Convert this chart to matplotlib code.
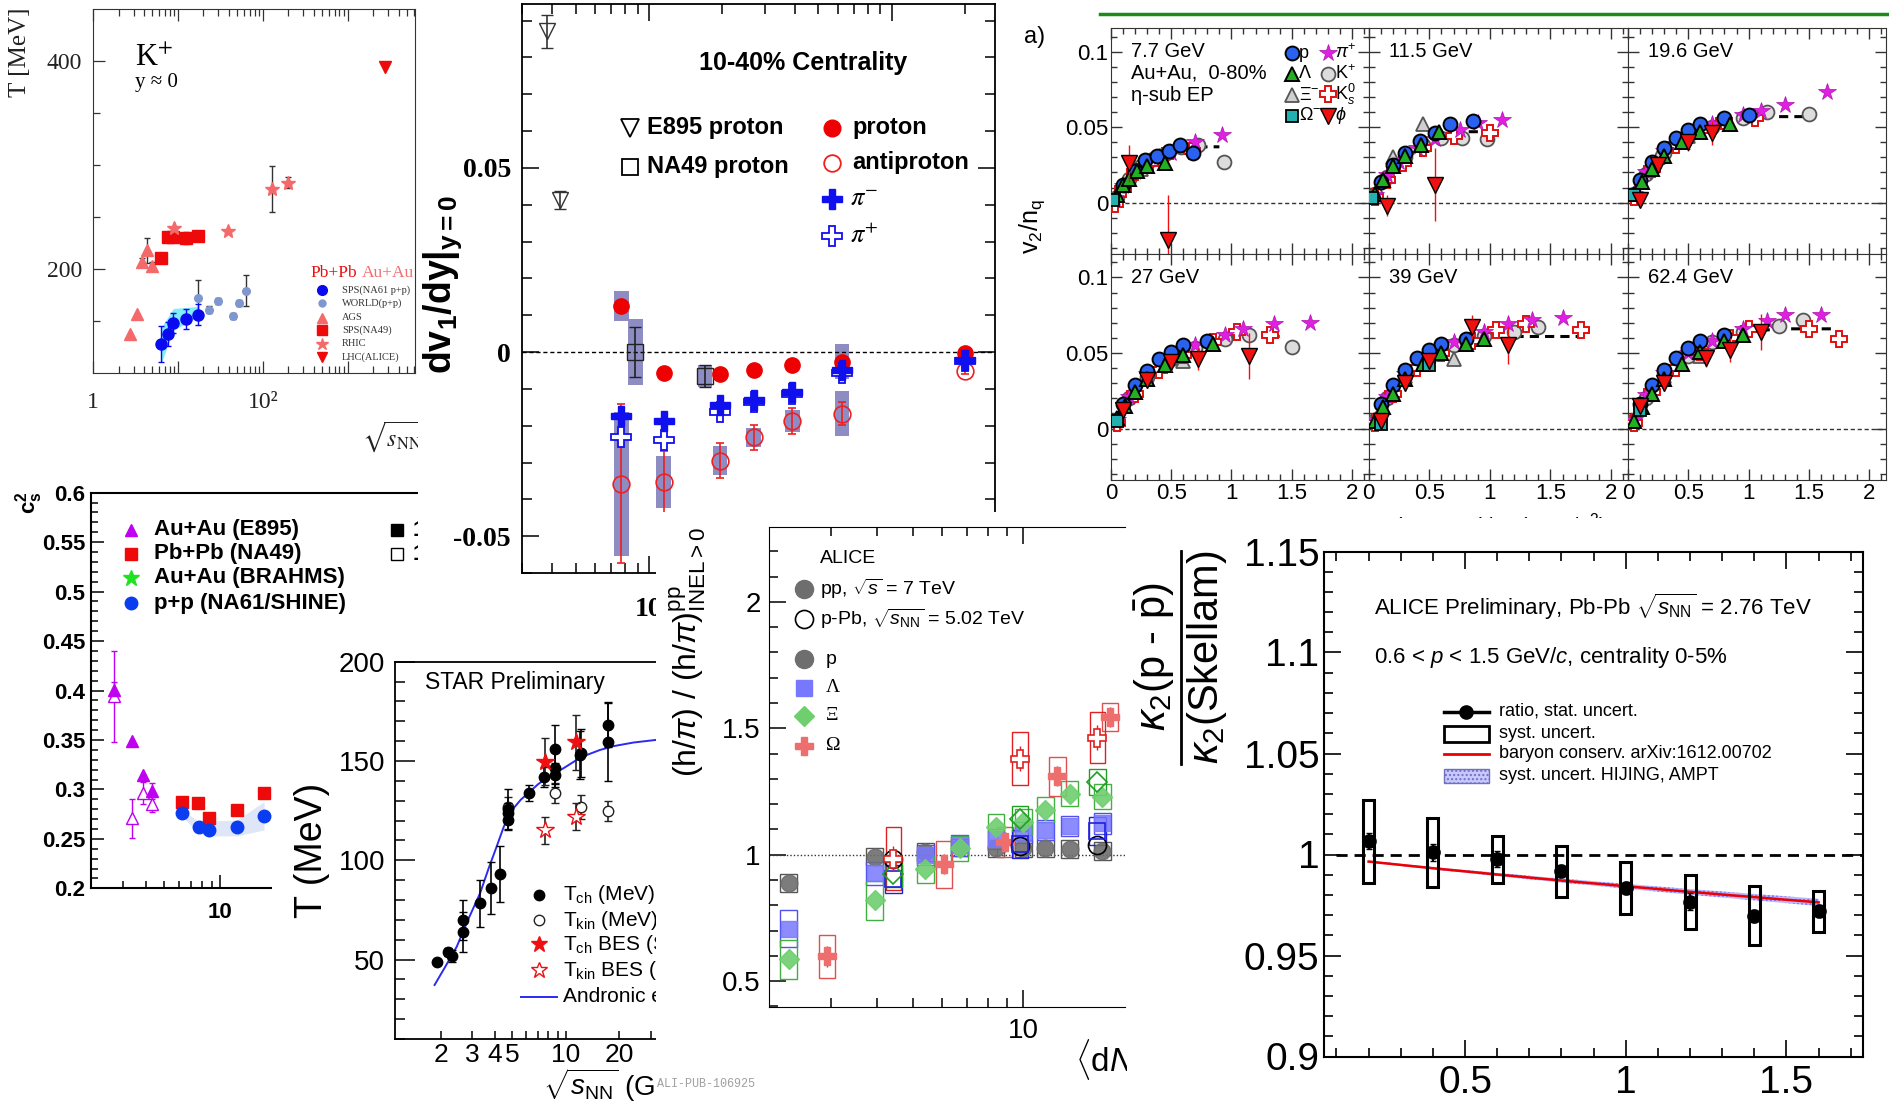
import numpy as np
import matplotlib
matplotlib.use("Agg")
import matplotlib.pyplot as plt
from matplotlib.patches import Rectangle
from matplotlib.lines import Line2D
from matplotlib.ticker import LogLocator, NullFormatter, MultipleLocator

plt.rcParams["font.family"] = ["Liberation Sans", "DejaVu Sans"]
plt.rcParams["mathtext.fontset"] = "custom"
plt.rcParams["mathtext.rm"] = "Liberation Sans"
plt.rcParams["mathtext.it"] = "Liberation Sans:italic"
plt.rcParams["mathtext.bf"] = "Liberation Sans:bold"
SERIF = ["Liberation Serif", "DejaVu Serif"]

# =========================
# data: K+ inverse slope T vs sqrt(s)
# =========================
k_na61_x = [6.3, 7.6, 8.7, 12.3, 17.3]
k_na61_T = [128, 137.5, 148, 152, 156]
k_na61_err = [17, 12, 10, 10, 10]
k_band_x = [6.4, 8.8, 17.3]
k_band_lo = [110, 141, 154]
k_band_hi = [144, 162, 164]
k_world_x = [17.3, 23, 30, 44, 53, 63]
k_world_T = [172, 161, 169, 155, 167, 179]
k_world_err = [17, 3, 3, 3, 3, 15]
k_ags_x = [2.7, 3.3, 3.8, 4.3, 4.9]
k_ags_T = [137.5, 157, 207, 218, 203]
k_ags_err = [0, 0, 4, 12, 4]
k_na49_x = [6.3, 7.6, 8.7, 12.3, 17.3]
k_na49_T = [211, 231, 231, 230, 232]
k_na49_err = [0, 5, 5, 6, 5]
k_rhic_x = [8.9, 39, 130, 200]
k_rhic_T = [239, 237, 277, 283]
k_rhic_err = [0, 0, 22, 5]
k_lhc_x = [2760]
k_lhc_T = [394]
k_legend = ["SPS(NA61 p+p)", "WORLD(p+p)", "AGS", "SPS(NA49)", "RHIC", "LHC(ALICE)"]

# =========================
# data: directed flow dv1/dy
# =========================
dv_e895_x = [3.8, 4.3]
dv_e895_y = [0.0871, 0.0413]
dv_e895_err = [0.0045, 0.0025]
dv_na49_x = [8.8, 17.0]
dv_na49_y = [0.0, -0.0064]
dv_na49_err = [0.0068, 0.003]
dv_na49_sys = [0.009, 0.003]
dv_star_x = [7.7, 11.5, 19.6, 27, 39, 62.4, 200]
dv_p = [0.0125, -0.0056, -0.006, -0.005, -0.0035, -0.0026, -0.0003]
dv_p_sys = [0.004, 0, 0, 0, 0, 0.0047, 0]
dv_pbar = [-0.0358, -0.0353, -0.0295, -0.0232, -0.0187, -0.0167, -0.0051]
dv_pbar_err = [0.0216, 0.0083, 0.0047, 0.0033, 0.0035, 0.003, 0.001]
dv_pbar_sys = [0.0196, 0.007, 0.004, 0.0025, 0.003, 0.006, 0]
dv_pim = [-0.0174, -0.0187, -0.0144, -0.0129, -0.0109, -0.0048, -0.0023]
dv_pip = [-0.0232, -0.0239, -0.0164, -0.0135, -0.0113, -0.0058, -0.0025]

# =========================
# data: v2/nq vs (mT-m0)/nq
# =========================
v2_energy = ["7.7 GeV", "11.5 GeV", "19.6 GeV", "27 GeV", "39 GeV", "62.4 GeV"]
v2_p_x = [[0.1, 0.2, 0.28, 0.38, 0.48, 0.57, 0.68], [0.1, 0.2, 0.3, 0.42, 0.55, 0.67, 0.86],
          [0.1, 0.2, 0.3, 0.4, 0.5, 0.6, 0.8, 1.0], [0.1, 0.2, 0.3, 0.4, 0.5, 0.6, 0.8],
          [0.1, 0.2, 0.3, 0.4, 0.5, 0.6, 0.8], [0.1, 0.2, 0.3, 0.4, 0.5, 0.6, 0.8]]
v2_p_y = [[0.012, 0.021, 0.028, 0.031, 0.034, 0.038, 0.033], [0.014, 0.025, 0.033, 0.041, 0.046, 0.052, 0.054],
          [0.015, 0.027, 0.036, 0.043, 0.048, 0.052, 0.056, 0.058], [0.016, 0.029, 0.038, 0.046, 0.051, 0.055, 0.058],
          [0.016, 0.029, 0.039, 0.047, 0.052, 0.056, 0.059], [0.016, 0.029, 0.039, 0.047, 0.053, 0.058, 0.062]]
v2_lam_x = [[0.05, 0.1, 0.15, 0.22, 0.3, 0.45], [0.05, 0.12, 0.2, 0.3, 0.43, 0.58],
            [0.05, 0.12, 0.2, 0.3, 0.45, 0.6, 0.85], [0.05, 0.12, 0.2, 0.3, 0.45, 0.6, 0.85],
            [0.05, 0.12, 0.2, 0.3, 0.45, 0.6, 0.8, 0.95], [0.05, 0.12, 0.2, 0.3, 0.45, 0.6, 0.8, 0.95]]
v2_lam_y = [[0.005, 0.012, 0.016, 0.021, 0.024, 0.026], [0.006, 0.015, 0.024, 0.031, 0.038, 0.047],
            [0.006, 0.014, 0.022, 0.031, 0.04, 0.047, 0.052], [0.007, 0.015, 0.024, 0.033, 0.042, 0.049, 0.056],
            [0.005, 0.014, 0.023, 0.033, 0.043, 0.05, 0.056, 0.059], [0.005, 0.014, 0.023, 0.033, 0.043, 0.051, 0.058, 0.062]]
v2_xi_x = [[0.1, 0.25], [0.2, 0.45], [0.25, 0.5], [0.3, 0.6], [0.3, 0.7], [0.3, 0.6]]
v2_xi_y = [[0.012, 0.022], [0.03, 0.052], [0.03, 0.044], [0.033, 0.045], [0.035, 0.046], [0.035, 0.048]]
v2_om_x = [[0.02], [0.03], [0.05], [0.05], [0.1, 0.5], [0.1]]
v2_om_y = [[0.002], [0.003], [0.005], [0.005], [0.003, 0.042], [0.012]]
v2_pi_x = [[0.03, 0.1, 0.2, 0.3, 0.4, 0.5, 0.7, 0.92], [0.05, 0.15, 0.25, 0.4, 0.55, 0.75, 0.9, 1.1],
           [0.05, 0.15, 0.3, 0.5, 0.7, 0.95, 1.1, 1.3, 1.65], [0.05, 0.15, 0.3, 0.5, 0.7, 0.95, 1.1, 1.35, 1.65],
           [0.05, 0.15, 0.3, 0.5, 0.7, 0.95, 1.15, 1.35, 1.6], [0.05, 0.15, 0.3, 0.5, 0.7, 0.95, 1.15, 1.3, 1.6]]
v2_pi_y = [[0.003, 0.011, 0.02, 0.026, 0.03, 0.033, 0.04, 0.045], [0.005, 0.018, 0.027, 0.036, 0.042, 0.048, 0.053, 0.055],
           [0.006, 0.02, 0.034, 0.045, 0.052, 0.058, 0.061, 0.065, 0.073], [0.006, 0.021, 0.036, 0.048, 0.055, 0.062, 0.066, 0.069, 0.070],
           [0.006, 0.021, 0.036, 0.049, 0.057, 0.064, 0.069, 0.072, 0.073], [0.006, 0.022, 0.037, 0.05, 0.058, 0.066, 0.071, 0.075, 0.075]]
v2_k_x = [[0.05, 0.15, 0.25, 0.35, 0.45, 0.58, 0.72, 0.94], [0.05, 0.15, 0.3, 0.45, 0.6, 0.77, 0.98],
          [0.05, 0.15, 0.3, 0.5, 0.7, 0.95, 1.15, 1.5], [0.05, 0.15, 0.3, 0.5, 0.7, 0.95, 1.15, 1.5],
          [0.05, 0.15, 0.3, 0.5, 0.7, 0.95, 1.2, 1.4], [0.05, 0.15, 0.3, 0.5, 0.7, 0.95, 1.25, 1.45]]
v2_k_y = [[0.004, 0.016, 0.024, 0.029, 0.032, 0.037, 0.038, 0.027], [0.006, 0.017, 0.03, 0.038, 0.043, 0.043, 0.042],
          [0.006, 0.019, 0.033, 0.044, 0.05, 0.056, 0.06, 0.059], [0.006, 0.02, 0.034, 0.046, 0.053, 0.059, 0.062, 0.054],
          [0.006, 0.02, 0.035, 0.047, 0.055, 0.061, 0.064, 0.067], [0.006, 0.02, 0.036, 0.048, 0.057, 0.064, 0.068, 0.072]]
v2_k0_x = [[0.03, 0.1, 0.2, 0.32, 0.45, 0.67], [0.05, 0.15, 0.28, 0.45, 0.7, 1.0],
           [0.05, 0.2, 0.4, 0.6, 0.8, 1.05], [0.05, 0.2, 0.4, 0.6, 0.85, 1.05, 1.32],
           [0.05, 0.2, 0.4, 0.6, 0.85, 1.05, 1.3, 1.75], [0.05, 0.2, 0.4, 0.6, 0.85, 1.0, 1.5, 1.75]]
v2_k0_y = [[-0.001, 0.009, 0.02, 0.026, 0.031, 0.034], [0.004, 0.015, 0.026, 0.036, 0.044, 0.046],
           [0.004, 0.022, 0.038, 0.048, 0.054, 0.056], [0.004, 0.023, 0.039, 0.049, 0.057, 0.064, 0.062],
           [0.004, 0.023, 0.04, 0.05, 0.058, 0.065, 0.069, 0.065], [0.004, 0.024, 0.04, 0.051, 0.06, 0.066, 0.066, 0.059]]
v2_phi_x = [[0.15, 0.47], [0.15, 0.55], [0.1, 0.25, 0.5, 0.7], [0.1, 0.3, 0.5, 0.72, 1.15],
            [0.1, 0.3, 0.5, 0.85, 1.15], [0.1, 0.3, 0.65, 0.85, 1.1]]
v2_phi_y = [[0.026, -0.025], [-0.002, 0.012], [0.002, 0.025, 0.04, 0.046], [0.012, 0.032, 0.044, 0.046, 0.048],
            [0.005, 0.03, 0.045, 0.067, 0.055], [0.015, 0.03, 0.047, 0.052, 0.064]]
v2_phi_err = [[0.012, 0.03], [0.007, 0.024], [0.005, 0.005, 0.006, 0.008], [0.005, 0.005, 0.006, 0.007, 0.015],
              [0.005, 0.005, 0.006, 0.008, 0.012], [0.005, 0.005, 0.006, 0.008, 0.012]]
v2_fit_x = [[0.6, 0.7, 0.8, 0.9], [0.7, 0.8, 0.9, 1.0], [1.0, 1.2, 1.4, 1.5], [1.0, 1.2, 1.4],
            [1.2, 1.4, 1.6, 1.75], [1.1, 1.3, 1.5, 1.7]]
v2_fit_y = [[0.035, 0.036, 0.037, 0.037], [0.046, 0.047, 0.047, 0.047], [0.056, 0.057, 0.057, 0.057],
            [0.06, 0.061, 0.061], [0.061, 0.061, 0.061, 0.061], [0.065, 0.066, 0.066, 0.066]]

# =========================
# data: speed of sound c_s^2
# =========================
cs_e895_x = [2.67, 3.33, 3.82, 4.29]
cs_e895_fill = [0.4005, 0.349, 0.3146, 0.2987]
cs_e895_fill_err = [0.008, 0, 0, 0.008]
cs_e895_open = [0.3944, 0.2707, 0.2967, 0.285]
cs_e895_open_err = [0.046, 0.02, 0.011, 0.0075]
cs_na49_x = [6.25, 7.64, 8.76, 12.3, 17.3]
cs_na49 = [0.2876, 0.2866, 0.2708, 0.2792, 0.2967]
cs_na61_x = [6.25, 7.7, 8.76, 12.3, 17.3]
cs_na61 = [0.2758, 0.2617, 0.259, 0.2617, 0.2735]
cs_band_lo = [0.2725, 0.2556, 0.253, 0.253, 0.259]
cs_band_hi = [0.279, 0.2674, 0.268, 0.269, 0.2876]
cs_ylabels = ["0.2", "0.25", "0.3", "0.35", "0.4", "0.45", "0.5", "0.55", "0.6"]
cs_legend = ["Au+Au (E895)", "Pb+Pb (NA49)", "Au+Au (BRAHMS)", "p+p (NA61/SHINE)"]

# =========================
# data: STAR freeze-out temperatures
# =========================
star_tch_x = [1.89, 2.2, 2.3, 2.67, 2.67, 3.31, 3.79, 4.28, 4.77, 4.77, 4.77, 6.25, 7.55,
              8.67, 8.67, 8.67, 12.0, 12.2, 17.2, 17.2]
star_tch_T = [49, 54, 51.8, 64, 70, 78.3, 85.9, 93.1, 120.3, 124, 126, 133.7, 141.8,
              155.9, 146.3, 143, 153, 153.9, 168, 159.7]
star_tch_err = [0, 2, 3, 10, 10, 12, 13, 14, 5, 5, 10, 4, 5, 12, 8, 6, 12, 12, 11, 20]
star_tkin_x = [4.77, 8.67, 12.2, 17.2]
star_tkin_T = [127, 133.7, 127, 125]
star_tkin_err = [5, 5, 6, 5]
star_besch_x = [7.66, 11.4]
star_besch_T = [149.7, 159.4]
star_besch_err = [12, 14]
star_beskin_x = [7.66, 11.4]
star_beskin_T = [115, 122]
star_beskin_err = [7, 7]
star_curve_x = [1.84, 2.1, 2.45, 2.8, 3.31, 3.7, 4.1, 4.5, 5.0, 5.6, 6.3, 7.0, 7.8, 8.7, 9.7,
                11.5, 13.1, 15.5, 18.6, 24, 32, 45, 60]
star_curve_T = [37.2, 46, 56.5, 69, 83.4, 96, 106.9, 117, 125.3, 130.5, 134.6, 138.3, 141.3, 144,
                146.3, 150.5, 153, 155.5, 157.5, 159.3, 160.6, 161.7, 162.2]

# =========================
# data: ALICE strangeness enhancement
# =========================
al_pp_x = [2.30, 3.94, 5.41, 6.71, 8.42, 10.0, 11.46, 13.35, 16.4]
al_pp_p = [0.887, 0.993, 1.012, 1.029, 1.025, 1.025, 1.025, 1.022, 1.015]
al_pp_lam = [0.708, 0.927, 1.0, 1.037, 1.063, 1.088, 1.098, 1.113, 1.124]
al_pp_lam_sys = [0.073, 0.045, 0.04, 0.04, 0.04, 0.04, 0.04, 0.04, 0.04]
al_pp_xi = [0.586, 0.82, 0.944, 1.026, 1.11, 1.13, 1.178, 1.241, 1.23]
al_pp_xi_sys = [0.077, 0.077, 0.055, 0.05, 0.05, 0.05, 0.05, 0.05, 0.05]
al_pp_om_x = [2.92, 6.08, 8.91, 12.38, 17.2]
al_pp_om = [0.598, 0.963, 1.051, 1.311, 1.545]
al_pp_om_sys = [0.084, 0.093, 0.058, 0.077, 0.056]
al_ppb_x = [4.42, 9.79, 15.9]
al_ppb_p = [0.985, 1.034, 1.037]
al_ppb_lam = [0.905, 1.044, 1.095]
al_ppb_xi = [0.923, 1.142, 1.288]
al_ppb_om = [0.985, 1.38, 1.463]
al_ppb_om_sys = [0.125, 0.105, 0.1]

# =========================
# data: kappa2 ratio
# =========================
kap_x = [0.2, 0.4, 0.6, 0.8, 1.0, 1.2, 1.4, 1.6]
kap_y = [1.0067, 1.001, 0.9976, 0.9919, 0.9835, 0.9767, 0.9697, 0.9719]
kap_stat = [0.004, 0.004, 0.004, 0.003, 0.003, 0.004, 0.003, 0.003]
kap_sys_lo = [0.986, 0.984, 0.986, 0.979, 0.9706, 0.963, 0.955, 0.9616]
kap_sys_hi = [1.027, 1.018, 1.009, 1.004, 0.9965, 0.990, 0.9846, 0.982]
kap_bc = [0.9965, 0.9932, 0.9901, 0.9871, 0.9843, 0.9815, 0.9789, 0.9763]
kap_bc_unc = [0.0005, 0.0006, 0.0008, 0.001, 0.0012, 0.0014, 0.0016, 0.0018]
kap_legend = ["ratio, stat. uncert.", "syst. uncert.", "baryon conserv. arXiv:1612.00702",
              "syst. uncert. HIJING, AMPT"]

# =========================
# helpers (pixel coordinates, origin top-left)
# =========================
fig = plt.figure(figsize=(18.89, 11.01), dpi=100)
fig.patch.set_facecolor("white")
W, H = 1889.0, 1101.0
P = 0.72  # px -> pt


def add_ax(l, t, r, b, z):
    ax = fig.add_axes([l / W, 1 - b / H, (r - l) / W, (b - t) / H])
    ax.set_zorder(z)
    return ax


def ftext(x, y, s, z, **kw):
    return fig.text(x / W, 1 - y / H, s, zorder=z, **kw)


def fmark(x, y, z, **kw):
    fig.add_artist(Line2D([x / W], [1 - y / H], transform=fig.transFigure, ls="none", zorder=z, **kw))


def fline(x0, x1, y0, y1, z, **kw):
    fig.add_artist(Line2D([x0 / W, x1 / W], [1 - y0 / H, 1 - y1 / H], transform=fig.transFigure,
                          zorder=z, **kw))


def frect(l, t, r, b, z, **kw):
    fig.add_artist(Rectangle((l / W, 1 - b / H), (r - l) / W, (b - t) / H,
                             transform=fig.transFigure, zorder=z, **kw))


def cover(l, t, r, b, z):
    frect(l, t, r, b, z, fc="white", ec="none")


def logminor(axis):
    axis.set_minor_locator(LogLocator(10, subs=np.arange(2, 10) * 1.0, numticks=60))
    axis.set_minor_formatter(NullFormatter())


def tks(ax, major, minor, **kw):
    ax.tick_params(which="major", length=major * P, direction="in", **kw)
    ax.tick_params(which="minor", length=minor * P, direction="in", **kw)


# =========================
# PANEL 1 - K+ T vs sqrt(s)
# =========================
ax1 = add_ax(93, 9, 415, 373, 1)
ax1.set_xscale("log")
ax1.set_xlim(1, 6200)
ax1.set_ylim(100, 450)
ax1.fill_between(k_band_x, k_band_lo, k_band_hi, color="#80eef6", lw=0)
ax1.errorbar(k_world_x, k_world_T, yerr=k_world_err, fmt="o", ms=5.5, color="#7f97cf",
             ecolor="#333", elinewidth=1, capsize=2)
ax1.errorbar(k_na61_x, k_na61_T, yerr=k_na61_err, fmt="o", ms=8, color="#0a0af0",
             ecolor="#0a0af0", elinewidth=1, capsize=2)
ax1.errorbar(k_ags_x, k_ags_T, yerr=k_ags_err, fmt="^", ms=8, color="#f46a6a",
             ecolor="#333", elinewidth=1, capsize=2)
ax1.errorbar(k_na49_x, k_na49_T, yerr=k_na49_err, fmt="s", ms=8, color="#ee0a0a",
             ecolor="#333", elinewidth=1, capsize=2)
ax1.errorbar(k_rhic_x, k_rhic_T, yerr=k_rhic_err, fmt="*", ms=10, color="#f46a6a",
             ecolor="#333", elinewidth=1, capsize=2)
ax1.plot(k_lhc_x, k_lhc_T, "v", ms=8.5, color="#ee0a0a")
ax1.set_xticks([1, 10, 100, 1000], ["1", "", "10²", ""])
logminor(ax1.xaxis)
ax1.set_yticks([200, 400], ["200", "400"])
ax1.set_yticks([150, 250, 300, 350], minor=True)
tks(ax1, 12, 7, top=True, right=False, width=0.9, color="#333")
ax1.tick_params(axis="y", labelsize=17, labelfontfamily="Liberation Serif", pad=8, labelcolor="#222")
ax1.tick_params(axis="x", labelsize=17, labelfontfamily="Liberation Serif", pad=14, labelcolor="#222")
for s in ax1.spines.values():
    s.set_color("#333")
ftext(20, 52, "T [MeV]", 1.5, rotation=90, ha="center", va="center", fontsize=18,
      family=SERIF, color="#222")
ftext(362, 437, r"$\sqrt{s_{\rm NN}}$ [GeV]", 1.5, ha="left", va="center", fontsize=17,
      family=SERIF, math_fontfamily="stix", color="#222")
ftext(135, 58, r"K$^{+}$", 1.5, fontsize=22, family=SERIF, math_fontfamily="stix", va="center")
ftext(135, 82, "y ≈ 0", 1.5, fontsize=15, family=SERIF, va="center")
ftext(310, 273, "Pb+Pb", 1.5, fontsize=12.5, family=SERIF, color="#e81010", va="center")
ftext(362, 273, "Au+Au", 1.5, fontsize=12.5, family=SERIF, color="#f07070", va="center")
k_leg_style = [dict(marker="o", ms=7, color="#0a0af0"), dict(marker="o", ms=5, color="#7f97cf"),
               dict(marker="^", ms=7.5, color="#f46a6a"), dict(marker="s", ms=7, color="#ee0a0a"),
               dict(marker="*", ms=9, color="#f46a6a"), dict(marker="v", ms=7.5, color="#ee0a0a")]
for i, (lab, st) in enumerate(zip(k_legend, k_leg_style)):
    yy = [290, 303, 318, 330, 344, 357][i]
    fmark(322, yy, 1.5, **st)
    ftext(342, yy, lab, 1.5, fontsize=7.5, family=SERIF, va="center", color="#333")

# =========================
# PANEL 4 - c_s^2
# =========================
ax4 = add_ax(90.7, 492.7, 417, 888.3, 1)
ax4.set_xscale("log")
ax4.set_xlim(2, 116)
ax4.set_ylim(0.2, 0.6)
ax4.spines["right"].set_visible(False)
for s in ax4.spines.values():
    s.set_linewidth(1.5)
ax4.fill_between(cs_na61_x, cs_band_lo, cs_band_hi, color="#dfe6f8", lw=0)
ax4.errorbar(cs_e895_x, cs_e895_open, yerr=cs_e895_open_err, fmt="^", ms=9, mfc="white",
             mec="#c000f0", ecolor="#c000f0", elinewidth=1, capsize=2)
ax4.errorbar(cs_e895_x, cs_e895_fill, yerr=cs_e895_fill_err, fmt="^", ms=9, color="#c000f0",
             elinewidth=1, capsize=2)
ax4.plot(cs_na49_x, cs_na49, "s", ms=8.5, color="#ee0a0a")
ax4.plot(cs_na61_x, cs_na61, "o", ms=9, color="#0a3cf0")
ax4.set_yticks(np.arange(0.2, 0.601, 0.05), cs_ylabels, fontweight="bold")
ax4.yaxis.set_minor_locator(MultipleLocator(0.01))
ax4.set_xticks([10], ["10"], fontweight="bold")
ax4.set_xticks([3, 4, 5, 6, 7, 8, 9, 20, 30, 40, 50, 60, 70, 80, 90, 100], minor=True)
ax4.xaxis.set_minor_formatter(NullFormatter())
tks(ax4, 13, 7, top=False, right=False, width=1.1)
ax4.tick_params(axis="y", labelsize=16, pad=4)
ax4.tick_params(axis="x", labelsize=16, pad=10)
ftext(29, 503, r"$\mathbf{c_s^2}$", 1.5, rotation=90, ha="center", va="center", fontsize=16)
cs_leg_style = [dict(marker="^", ms=9, color="#c000f0"), dict(marker="s", ms=9, color="#ee0a0a"),
                dict(marker="*", ms=12, color="#22e022"), dict(marker="o", ms=9, color="#0a3cf0")]
for i, (lab, st) in enumerate(zip(cs_legend, cs_leg_style)):
    yy = [530, 554, 578, 603][i]
    fmark(131, yy, 1.5, **st)
    ftext(154, yy, lab, 1.5, fontsize=16, fontweight="bold", va="center")
fmark(397, 530, 1.5, marker="s", ms=9, color="black")
fmark(397, 554, 1.5, marker="s", ms=9, mfc="white", mec="black")
ftext(413, 530, "1", 1.5, fontsize=16, fontweight="bold", va="center")
ftext(413, 554, "1", 1.5, fontsize=16, fontweight="bold", va="center")

# =========================
# PANEL 2 - dv1/dy
# =========================
cover(418, 0, 1002, 612, 2)
ax2 = add_ax(522, 4, 995, 573, 3)
ax2.set_xscale("log")
ax2.set_xlim(3, 267)
ax2.set_ylim(-0.06, 0.0945)
ax2.axhline(0, color="black", ls=(0, (3, 2)), lw=1)


def logbox(ax, x, yc, h, half, **kw):
    x0, x1 = x * 10 ** (-half), x * 10 ** half
    ax.add_patch(Rectangle((x0, yc - h), x1 - x0, 2 * h, **kw))


band_col = "#8d8dc3"
for x, y, s in zip(dv_na49_x, dv_na49_y, dv_na49_sys):
    logbox(ax2, x, y, s, 0.03, fc=band_col, ec="none", zorder=1)
for x, y, s in zip(dv_star_x, dv_p, dv_p_sys):
    if s > 0:
        logbox(ax2, x, y, s, 0.03, fc=band_col, ec="none", zorder=1)
for x, y, s in zip(dv_star_x, dv_pbar, dv_pbar_sys):
    if s > 0:
        logbox(ax2, x, y, s, 0.03, fc=band_col, ec="none", zorder=1)
ax2.errorbar(dv_e895_x, dv_e895_y, yerr=dv_e895_err, fmt="v", ms=12, mfc="none", mec="#333",
             ecolor="#333", elinewidth=1.2, capsize=4, zorder=3)
ax2.errorbar(dv_na49_x, dv_na49_y, yerr=dv_na49_err, fmt="s", ms=11, mfc="none", mec="#222",
             ecolor="#222", elinewidth=1.2, capsize=4, zorder=3)
ax2.errorbar(dv_star_x, dv_pbar, yerr=dv_pbar_err, fmt="o", ms=12, mfc="none", mec="#ee2020",
             mew=1.2, ecolor="#ee2020", elinewidth=1.2, capsize=3, zorder=3)
ax2.plot(dv_star_x, dv_p, "o", ms=11, color="#ee0000", zorder=4)
ax2.plot(dv_star_x, dv_pip, "P", ms=15, mfc="white", mec="#1010ee", mew=1.3, zorder=4)
ax2.plot(dv_star_x, dv_pim, "P", ms=15, color="#1010ee", zorder=5)
ax2.set_yticks([-0.05, 0, 0.05], ["-0.05", "0", "0.05"], fontweight="bold", fontfamily="Liberation Serif")
ax2.yaxis.set_minor_locator(MultipleLocator(0.01))
# the 100 label sits under the ALICE panel, so only 10 is written
ax2.set_xticks([10, 100], ["10", ""], fontweight="bold", fontfamily="Liberation Serif")
logminor(ax2.xaxis)
tks(ax2, 17, 10, top=True, right=True, width=1.1)
ax2.tick_params(labelsize=20)
ax2.tick_params(axis="y", pad=8)
ax2.tick_params(axis="x", pad=17)
for s in ax2.spines.values():
    s.set_linewidth(1.3)
ftext(443, 285, r"dv$_\mathbf{1}$/dy|$_\mathbf{y=0}$", 3.5, rotation=90, ha="center", va="center",
      fontsize=27, fontweight="bold")
ftext(803, 63, "10-40% Centrality", 3.5, ha="center", va="center", fontsize=18, fontweight="bold")
fmark(630, 128, 3.5, marker="v", ms=13, mfc="none", mec="black", mew=1.3)
ftext(647, 128, "E895 proton", 3.5, fontsize=17, fontweight="bold", va="center")
fmark(630, 167, 3.5, marker="s", ms=12, mfc="none", mec="black", mew=1.3)
ftext(647, 167, "NA49 proton", 3.5, fontsize=17, fontweight="bold", va="center")
fmark(832, 128, 3.5, marker="o", ms=12, color="#ee0000")
ftext(852, 128, "proton", 3.5, fontsize=17, fontweight="bold", va="center")
fmark(832, 163, 3.5, marker="o", ms=12, mfc="none", mec="#ee2020", mew=1.3)
ftext(852, 163, "antiproton", 3.5, fontsize=17, fontweight="bold", va="center")
fmark(832, 199, 3.5, marker="P", ms=15, color="#1010ee")
ftext(850, 199, r"$\pi^{-}$", 3.5, fontsize=19, va="center", math_fontfamily="stix")
fmark(832, 236, 3.5, marker="P", ms=15, mfc="white", mec="#1010ee", mew=1.3)
ftext(850, 236, r"$\pi^{+}$", 3.5, fontsize=19, va="center", math_fontfamily="stix")

# =========================
# PANEL 3 - v2/nq, six energies
# =========================
fline(1100, 1889, 14, 14, 1.5, color="#1b8c1b", lw=2.5)
ftext(1035, 37, "a)", 1.5, fontsize=17, ha="center", va="center")
cols = [1111, 1368.7, 1628, 1886]
rows = [28.3, 254, 480]
sp = {
    "k": dict(marker="o", ms=10, mfc="#dcdcdc", mec="#555", mew=1.3),
    "xi": dict(marker="^", ms=10, mfc="#d0d0d0", mec="#555", mew=1.3),
    "k0": dict(marker="P", ms=11, mfc="white", mec="#e01010", mew=1.4),
    "pi": dict(marker="*", ms=13, mfc="#e020e0", mec="#b010b0", mew=0.5),
    "p": dict(marker="o", ms=10, mfc="#2a62f0", mec="black", mew=1.4),
    "lam": dict(marker="^", ms=10.5, mfc="#22b022", mec="black", mew=1.4),
    "om": dict(marker="s", ms=9, mfc="#22b0b0", mec="black", mew=1.3),
    "phi": dict(marker="v", ms=11, mfc="#f01010", mec="black", mew=1.0),
}
series = [("k", v2_k_x, v2_k_y), ("xi", v2_xi_x, v2_xi_y), ("k0", v2_k0_x, v2_k0_y),
          ("pi", v2_pi_x, v2_pi_y), ("p", v2_p_x, v2_p_y), ("lam", v2_lam_x, v2_lam_y),
          ("om", v2_om_x, v2_om_y)]
for i in range(6):
    r, c = divmod(i, 3)
    ax = add_ax(cols[c], rows[r], cols[c + 1], rows[r + 1], 1)
    ax.set_xlim(0, 2.14)
    ax.set_ylim(-0.034, 0.1155)
    ax.axhline(0, color="#333", ls=(0, (3, 2)), lw=1)
    ax.plot(v2_fit_x[i], v2_fit_y[i], color="black", ls=(0, (3, 2)), lw=2.2, zorder=2)
    for key, xs, ys in series:
        ax.plot(xs[i], ys[i], ls="none", zorder=3, **sp[key])
    ax.errorbar(v2_phi_x[i], v2_phi_y[i], yerr=v2_phi_err[i], fmt="none", ecolor="#f01010",
                elinewidth=1, zorder=3)
    ax.plot(v2_phi_x[i], v2_phi_y[i], ls="none", zorder=4, **sp["phi"])
    ax.set_xticks([0, 0.5, 1, 1.5, 2], ["0", "0.5", "1", "1.5", "2"])
    ax.xaxis.set_minor_locator(MultipleLocator(0.1))
    ax.set_yticks([0, 0.05, 0.1], ["0", "0.05", "0.1"])
    ax.yaxis.set_minor_locator(MultipleLocator(0.01))
    tks(ax, 11, 6, top=True, right=True, width=1, color="#333",
        labelleft=(c == 0), labelbottom=(r == 1))
    ax.tick_params(labelsize=16, pad=2)
    for s in ax.spines.values():
        s.set_color("#333")
    ax.text(20 / 258 * 2.14, 0.1, v2_energy[i], fontsize=14.5, va="center")
ftext(1131, 73, "Au+Au,  0-80%", 1.5, fontsize=14.5, va="center")
ftext(1131, 95, "η-sub EP", 1.5, fontsize=14.5, va="center")
v2_leg = [("p", "p", 1292, 53), ("pi", r"$\pi^{+}$", 1328, 53), ("lam", "Λ", 1292, 74),
          ("k", r"K$^{+}$", 1328, 74), ("xi", r"$\Xi^{-}$", 1292, 95), ("k0", r"K$^{0}_{s}$", 1328, 94),
          ("om", r"$\Omega^{-}$", 1292, 116), ("phi", r"$\phi$", 1328, 116)]
for key, lab, xx, yy in v2_leg:
    fmark(xx, yy, 1.5, **sp[key])
    ftext(xx + 7, yy, lab, 1.5, fontsize=13, va="center")
ftext(1032, 227, r"v$_2$/n$_{\rm q}$", 1.5, rotation=90, ha="center", va="center", fontsize=18)
ftext(1500, 527, r"(m$_{\rm T}$ - m$_0$)/n$_{\rm q}$ (GeV/c$^2$)", 1.5, ha="center", va="center",
      fontsize=16)

# =========================
# PANEL 5 - STAR temperatures
# =========================
cover(272, 640, 660, 1101, 4)
ax5 = add_ax(395, 661.7, 700, 1039, 5)
ax5.set_xscale("log")
ax5.set_xlim(1.104, 56.6)
ax5.set_ylim(10, 200)
ax5.spines["right"].set_visible(False)
for s in ax5.spines.values():
    s.set_linewidth(1.3)
ax5.plot(star_curve_x, star_curve_T, color="#2a2af0", lw=1.4, zorder=2)
ax5.errorbar(star_tkin_x, star_tkin_T, yerr=star_tkin_err, fmt="o", ms=7.5, mfc="white", mec="#222",
             ecolor="#222", elinewidth=1.2, capsize=3, zorder=3)
ax5.errorbar(star_tch_x, star_tch_T, yerr=star_tch_err, fmt="o", ms=7.5, color="black",
             elinewidth=1.2, capsize=3, zorder=4)
ax5.errorbar(star_beskin_x, star_beskin_T, yerr=star_beskin_err, fmt="*", ms=13, mfc="white",
             mec="#ee1010", ecolor="#222", elinewidth=1.2, capsize=3, zorder=4)
ax5.errorbar(star_besch_x, star_besch_T, yerr=star_besch_err, fmt="*", ms=13, color="#ee1010",
             ecolor="#222", elinewidth=1.2, capsize=3, zorder=4)
ax5.set_yticks([50, 100, 150, 200], ["50", "100", "150", "200"])
ax5.yaxis.set_minor_locator(MultipleLocator(10))
ax5.set_xticks([2, 3, 4, 5, 10, 20, 30], ["2", "3", "4", "5", "10", "20", ""])
ax5.set_xticks([6, 7, 8, 9, 40, 50], minor=True)
ax5.xaxis.set_minor_formatter(NullFormatter())
tks(ax5, 20, 10, top=False, right=False, width=1.1)
ax5.tick_params(axis="x", which="both", length=8 * P)
ax5.tick_params(axis="y", labelsize=20, pad=7)
ax5.tick_params(axis="x", labelsize=19, pad=3)
ftext(425, 682, "STAR Preliminary", 5.5, fontsize=16.5, va="center")
ftext(312, 850, "T (MeV)", 5.5, rotation=90, ha="center", va="center", fontsize=27)
ftext(543, 1085, r"$\sqrt{s_{\rm NN}}$ (GeV)", 5.5, ha="left", va="center", fontsize=20)
fmark(539, 895, 5.5, marker="o", ms=7.5, color="black")
ftext(563, 895, r"T$_{\rm ch}$ (MeV)", 5.5, fontsize=15, va="center")
fmark(539, 920, 5.5, marker="o", ms=7.5, mfc="white", mec="#222")
ftext(563, 920, r"T$_{\rm kin}$ (MeV)", 5.5, fontsize=15, va="center")
fmark(539, 944, 5.5, marker="*", ms=12, color="#ee1010")
ftext(563, 944, r"T$_{\rm ch}$ BES (STAR)", 5.5, fontsize=15, va="center")
fmark(539, 970, 5.5, marker="*", ms=12, mfc="white", mec="#ee1010")
ftext(563, 970, r"T$_{\rm kin}$ BES (STAR)", 5.5, fontsize=15, va="center")
fline(521, 557, 997, 997, 5.5, color="#2a2af0", lw=1.4)
ftext(563, 997, "Andronic et al.", 5.5, fontsize=15, va="center")

# =========================
# PANEL 6 - ALICE ratios
# =========================
cover(656, 512, 1127, 1101, 6)
ax6 = add_ax(769, 527, 1125, 1007, 7)
ax6.set_xscale("log")
ax6.set_xlim(2.03, 18.9)
ax6.set_ylim(0.398, 2.296)
ax6.spines["right"].set_visible(False)
ax6.axhline(1, color="#333", ls=(0, (1, 1.5)), lw=1)
hw = 0.023
for x, y in zip(al_pp_x, al_pp_p):
    logbox(ax6, x, y, 0.035, hw, fc="none", ec="#555", lw=1, zorder=2)
for x, y, s in zip(al_pp_x, al_pp_lam, al_pp_lam_sys):
    logbox(ax6, x, y, s, hw, fc="none", ec="#5050f0", lw=1, zorder=2)
for x, y, s in zip(al_pp_x, al_pp_xi, al_pp_xi_sys):
    logbox(ax6, x, y, s, hw, fc="none", ec="#40b040", lw=1, zorder=2)
for x, y, s in zip(al_pp_om_x, al_pp_om, al_pp_om_sys):
    logbox(ax6, x, y, s, hw, fc="none", ec="#e05050", lw=1, zorder=2)
for x, y, s in zip(al_ppb_x, al_ppb_om, al_ppb_om_sys):
    logbox(ax6, x, y, s, hw * 0.9, fc="none", ec="#e02020", lw=1, zorder=2)
for x, y in zip(al_ppb_x, al_ppb_lam):
    logbox(ax6, x, y, 0.055, hw, fc="none", ec="#2020e0", lw=1, zorder=2)
for x, y in zip(al_ppb_x, al_ppb_xi):
    logbox(ax6, x, y, 0.05, hw, fc="none", ec="#20a020", lw=1, zorder=2)
ax6.plot(al_pp_x, al_pp_p, "o", ms=12, color="#6e6e6e", alpha=0.9, zorder=3)
ax6.plot(al_pp_x, al_pp_lam, "s", ms=12, color="#7878ff", alpha=0.85, zorder=3)
ax6.plot(al_pp_x, al_pp_xi, "D", ms=10, color="#6fcf6f", alpha=0.9, zorder=3)
ax6.errorbar(al_pp_om_x, al_pp_om, yerr=0.04, fmt="P", ms=13, color="#ee6e6e", ecolor="#e03030",
             elinewidth=1, zorder=3)
ax6.plot(al_ppb_x, al_ppb_p, "o", ms=13, mfc="none", mec="black", mew=1.2, zorder=4)
ax6.plot(al_ppb_x, al_ppb_lam, "s", ms=11, mfc="none", mec="#2020e0", mew=1.2, zorder=4)
ax6.plot(al_ppb_x, al_ppb_xi, "D", ms=10, mfc="none", mec="#20a020", mew=1.2, zorder=4)
ax6.errorbar(al_ppb_x, al_ppb_om, yerr=0.05, fmt="P", ms=13, mfc="white", mec="#e02020",
             ecolor="#e02020", elinewidth=1, mew=1.2, zorder=4)
ax6.set_yticks([0.5, 1, 1.5, 2], ["0.5", "1", "1.5", "2"])
ax6.yaxis.set_minor_locator(MultipleLocator(0.1))
ax6.set_xticks([10], ["10"])
logminor(ax6.xaxis)
tks(ax6, 17, 9, top=True, right=False, width=1.1)
ax6.tick_params(labelsize=20)
ax6.tick_params(axis="y", pad=6)
ax6.tick_params(axis="x", pad=8)
ftext(688, 652, r"(h/$\pi$) / (h/$\pi$)$^{\rm pp}_{\rm INEL>0}$", 7.5, rotation=90, ha="center",
      va="center", fontsize=23)
ftext(820, 559, "ALICE", 7.5, fontsize=14, va="center")
fmark(804, 589, 7.5, marker="o", ms=13, color="#6e6e6e")
ftext(820, 589, r"pp, $\sqrt{s}$ = 7 TeV", 7.5, fontsize=14, va="center")
fmark(804, 619, 7.5, marker="o", ms=13, mfc="none", mec="black", mew=1.2)
ftext(820, 619, r"p-Pb, $\sqrt{s_{\rm NN}}$ = 5.02 TeV", 7.5, fontsize=14, va="center")
fmark(804, 659, 7.5, marker="o", ms=13, color="#6e6e6e")
ftext(826, 659, "p", 7.5, fontsize=14, va="center")
fmark(804, 688, 7.5, marker="s", ms=12, color="#7878ff")
ftext(826, 688, "Λ", 7.5, fontsize=14, va="center", family=SERIF)
fmark(804, 716, 7.5, marker="D", ms=10, color="#6fcf6f")
ftext(826, 716, "Ξ", 7.5, fontsize=14, va="center", family=SERIF)
fmark(804, 746, 7.5, marker="P", ms=13, color="#ee6e6e")
ftext(826, 746, "Ω", 7.5, fontsize=14, va="center", family=SERIF)
ftext(1075, 1060, r"$\langle$d$N_{\rm ch}$/d$\eta\rangle$", 7.5, fontsize=24, va="center")
ftext(657, 1084, "ALI-PUB-106925", 7.5, fontsize=8.5, family=["Liberation Mono", "DejaVu Sans Mono"],
      color="#a0a0a0", va="center")

# =========================
# PANEL 7 - kappa2 ratio
# =========================
cover(1127, 518, 1889, 1101, 8)
ax7 = add_ax(1323.6, 551.5, 1863, 1056.5, 9)
ax7.set_xlim(0.06, 1.738)
ax7.set_ylim(0.9, 1.15)
for s in ax7.spines.values():
    s.set_linewidth(1.5)
ax7.plot([0.1, 1.738], [1, 1], color="black", ls=(0, (4, 2.5)), lw=2, zorder=1)
ax7.fill_between(kap_x, np.array(kap_bc) - np.array(kap_bc_unc), np.array(kap_bc) + np.array(kap_bc_unc),
                 fc="#9c9cff", ec="#5a5aff", hatch="....", lw=0, alpha=0.7, zorder=2)
ax7.plot(kap_x, kap_bc, color="#ee0000", lw=1.8, zorder=3)
for x, lo, hi in zip(kap_x, kap_sys_lo, kap_sys_hi):
    ax7.add_patch(Rectangle((x - 0.017, lo), 0.034, hi - lo, fc="none", ec="black", lw=2.2, zorder=4))
ax7.errorbar(kap_x, kap_y, yerr=kap_stat, fmt="o", ms=9.5, color="black", elinewidth=1.5,
             capsize=2, zorder=5)
ax7.set_yticks([0.9, 0.95, 1.0, 1.05, 1.1, 1.15], ["0.9", "0.95", "1", "1.05", "1.1", "1.15"])
ax7.yaxis.set_minor_locator(MultipleLocator(0.01))
ax7.set_xticks([0.5, 1.0, 1.5], ["0.5", "1", "1.5"])
ax7.xaxis.set_minor_locator(MultipleLocator(0.1))
tks(ax7, 17, 9, top=True, right=True, width=1.2)
ax7.tick_params(labelsize=28)
ax7.tick_params(axis="y", pad=3)
ax7.tick_params(axis="x", pad=6)
ftext(1154, 657, r"$\kappa_2$(p - $\bar{\rm p}$)", 9.5, rotation=90, ha="center", va="center", fontsize=30)
fline(1181, 1181, 551, 764, 9.5, color="black", lw=2)
ftext(1207, 657, r"$\kappa_2$(Skellam)", 9.5, rotation=90, ha="center", va="center", fontsize=30)
ftext(1374, 607, r"ALICE Preliminary, Pb-Pb $\sqrt{s_{\rm NN}}$ = 2.76 TeV", 9.5, fontsize=16, va="center")
ftext(1374, 657, r"0.6 < $p$ < 1.5 GeV/$c$, centrality 0-5%", 9.5, fontsize=16, va="center")
fline(1443.6, 1489, 711.5, 711.5, 9.5, color="black", lw=2.5)
fmark(1466, 711.5, 9.5, marker="o", ms=9.5, color="black")
ftext(1499, 711.5, kap_legend[0], 9.5, fontsize=13, va="center")
frect(1443.6, 726, 1489, 741.6, 9.5, fc="none", ec="black", lw=2)
ftext(1499, 733.8, kap_legend[1], 9.5, fontsize=13, va="center")
fline(1443.6, 1489, 754, 754, 9.5, color="#ee0000", lw=2)
ftext(1499, 754, kap_legend[2], 9.5, fontsize=13, va="center")
frect(1443.6, 769, 1489, 783, 9.5, fc="#c8c8ff", ec="#7070c0", hatch="....", lw=1)
ftext(1499, 775.6, kap_legend[3], 9.5, fontsize=13, va="center")

plt.savefig("out.png", dpi=100)
